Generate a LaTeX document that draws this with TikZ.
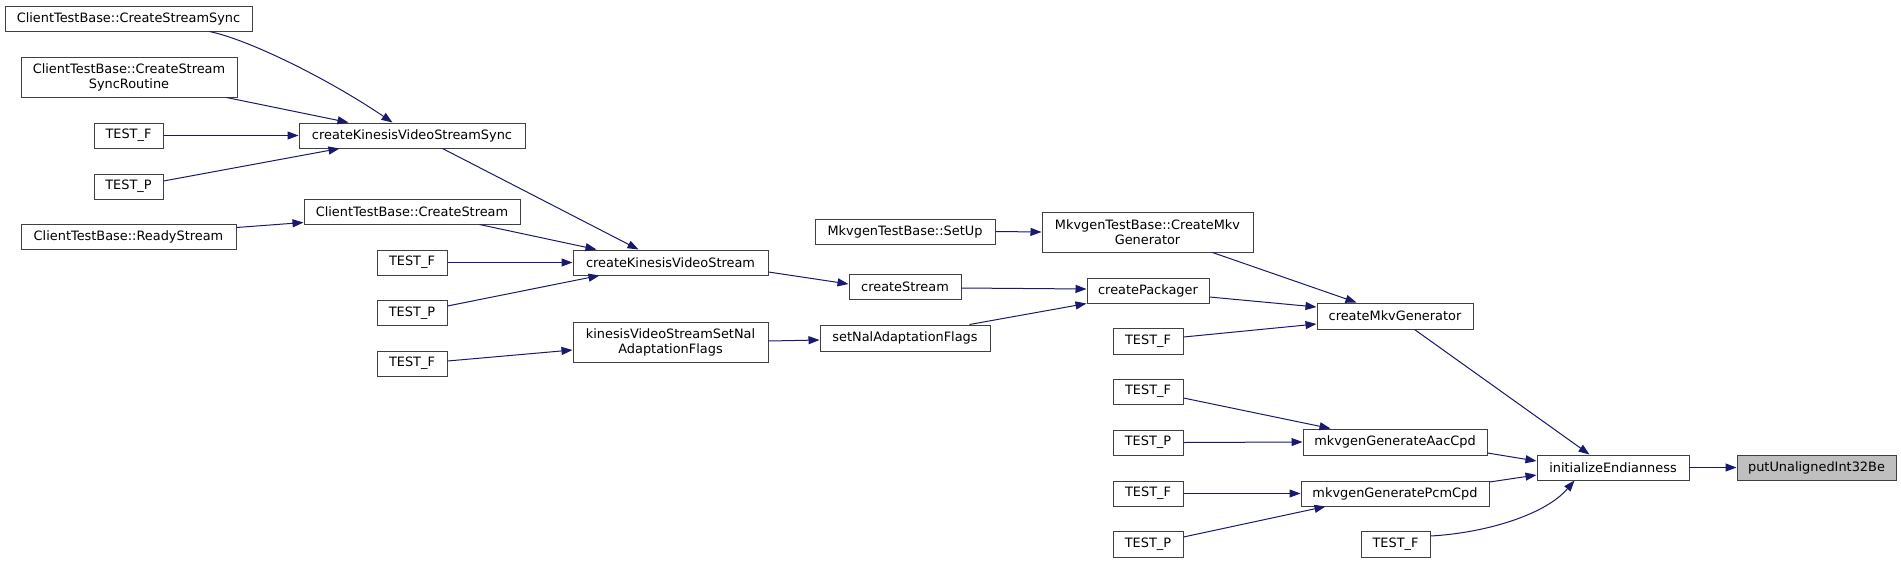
\documentclass[tikz,border=0pt]{standalone}
\usepackage{fontspec}
\setmainfont{DejaVu Sans}
\usetikzlibrary{arrows.meta,calc}
\definecolor{edgeblue}{HTML}{191970}
\definecolor{boxborder}{HTML}{404040}
\definecolor{calleefill}{HTML}{BFBFBF}
\begin{document}
\begin{tikzpicture}[x=1pt,y=-1pt,
  box/.style={draw=boxborder, line width=1pt, fill=white, inner sep=0pt, align=center,
    font=\fontsize{12.9}{15}\selectfont, text=black},
  callee/.style={box, fill=calleefill},
  edge/.style={draw=edgeblue, line width=1pt, -{Triangle[length=11pt,width=8pt]}}
]
\fill[white] (0,0) rectangle (1901,563);
\useasboundingbox (0,0) rectangle (1901,563);

% column 1
\node[box, minimum width=247, minimum height=25] (a1) at (128.5,18.5) {ClientTestBase::CreateStreamSync};
\node[box, minimum width=216, minimum height=40] (a2) at (129,77) {ClientTestBase::CreateStream\\SyncRoutine};
\node[box, minimum width=69, minimum height=25] (a3) at (128.5,135.5) {TEST\_F};
\node[box, minimum width=69, minimum height=25] (a4) at (128.5,186.5) {TEST\_P};
\node[box, minimum width=215, minimum height=25] (a5) at (128.5,236.5) {ClientTestBase::ReadyStream};
% column 2
\node[box, minimum width=226, minimum height=25] (b1) at (412,135.5) {createKinesisVideoStreamSync};
\node[box, minimum width=216, minimum height=25] (b2) at (412,211.5) {ClientTestBase::CreateStream};
\node[box, minimum width=70, minimum height=25] (b3) at (412,262.5) {TEST\_F};
\node[box, minimum width=70, minimum height=25] (b4) at (412,313) {TEST\_P};
\node[box, minimum width=70, minimum height=25] (b5) at (412,363.5) {TEST\_F};
% column 3
\node[box, minimum width=195, minimum height=25] (c1) at (670.5,262.5) {createKinesisVideoStream};
\node[box, minimum width=195, minimum height=40] (c2) at (670.5,342.5) {kinesisVideoStreamSetNal\\AdaptationFlags};
% column 4
\node[box, minimum width=180, minimum height=25] (d0) at (905,231.5) {MkvgenTestBase::SetUp};
\node[box, minimum width=112, minimum height=25] (d1) at (905,286.5) {createStream};
\node[box, minimum width=170, minimum height=26] (d2) at (905,338) {setNalAdaptationFlags};
% column 5
\node[box, minimum width=211, minimum height=40] (e0) at (1147.5,232) {MkvgenTestBase::CreateMkv\\Generator};
\node[box, minimum width=122, minimum height=25] (e1) at (1148,290.5) {createPackager};
\node[box, minimum width=70, minimum height=26] (e2) at (1148,341) {TEST\_F};
\node[box, minimum width=70, minimum height=25] (e3) at (1148,391.5) {TEST\_F};
\node[box, minimum width=70, minimum height=25] (e4) at (1148,442.5) {TEST\_P};
\node[box, minimum width=70, minimum height=25] (e5) at (1148,493.5) {TEST\_F};
\node[box, minimum width=70, minimum height=26] (e6) at (1148,544) {TEST\_P};
% column 6
\node[box, minimum width=156, minimum height=26] (f1) at (1395,316) {createMkvGenerator};
\node[box, minimum width=184, minimum height=26] (f2) at (1395,442) {mkvgenGenerateAacCpd};
\node[box, minimum width=188, minimum height=25] (f3) at (1395,493.5) {mkvgenGeneratePcmCpd};
\node[box, minimum width=69, minimum height=26] (f4) at (1395.5,544) {TEST\_F};
% column 7, 8
\node[box, minimum width=152, minimum height=25] (g1) at (1613,467.5) {initializeEndianness};
\node[callee, minimum width=159, minimum height=25] (h1) at (1816.5,467.5) {putUnalignedInt32Be};

% edges
\draw[edge] ($(a1.south west)+(205,0)$) .. controls (250,40) and (330,80) .. ($(b1.north west)+(94,0)$);
\draw[edge] ($(a2.south west)+(206,0)$) -- ($(b1.north west)+(50,0)$);
\draw[edge] (a3.east) -- (b1.west);
\draw[edge] ($(a4.east)+(0,-5.5)$) -- ($(b1.south west)+(41,0)$);
\draw[edge] ($(a5.north east)+(0,4)$) -- ($(b2.south west)+(0,-2)$);

\draw[edge] ($(b1.south west)+(144,0)$) -- ($(c1.north west)+(66,0)$);
\draw[edge] ($(b2.south west)+(176,0)$) -- ($(c1.north west)+(24,0)$);
\draw[edge] (b3.east) -- (c1.west);
\draw[edge] ($(b4.east)+(0,-7)$) -- ($(c1.south west)+(27,0)$);
\draw[edge] ($(b5.east)+(0,-2.5)$) -- ($(c2.west)+(0,7.5)$);

\draw[edge] ($(c1.east)+(0,9.5)$) -- ($(d1.west)+(0,-2.5)$);
\draw[edge] ($(c2.east)+(0,-1.5)$) -- ($(d2.west)+(0,2)$);

\draw[edge] (d0.east) -- (e0.west);
\draw[edge] ($(d1.east)+(0,1.5)$) -- ($(e1.west)+(0,-1.5)$);
\draw[edge] ($(d2.north west)+(150,0)$) -- (e1.south west);

\draw[edge] ($(e0.south west)+(171,0)$) -- ($(f1.north west)+(40,0)$);
\draw[edge] ($(e1.east)+(0,6.5)$) -- ($(f1.west)+(0,-9)$);
\draw[edge] ($(e2.east)+(0,-4)$) -- ($(f1.west)+(0,8)$);
\draw[edge] ($(e3.east)+(0,6.5)$) -- ($(f2.north west)+(28,0)$);
\draw[edge] (e4.east) -- (f2.west);
\draw[edge] (e5.east) -- (f3.west);
\draw[edge] ($(e6.east)+(0,-7)$) -- ($(f3.south west)+(25,0)$);

\draw[edge] ($(f1.south west)+(98,0)$) -- ($(g1.north west)+(53,0)$);
\draw[edge] ($(f2.east)+(0,11)$) -- ($(g1.west)+(0,-6.5)$);
\draw[edge] ($(f3.east)+(0,-11.5)$) -- ($(g1.west)+(0,7.5)$);
\draw[edge] ($(f4.east)+(0,-8)$) .. controls (1485,533) and (1545,515) .. ($(g1.south west)+(38,0)$);

\draw[edge] (g1.east) -- (h1.west);
\end{tikzpicture}
\end{document}
